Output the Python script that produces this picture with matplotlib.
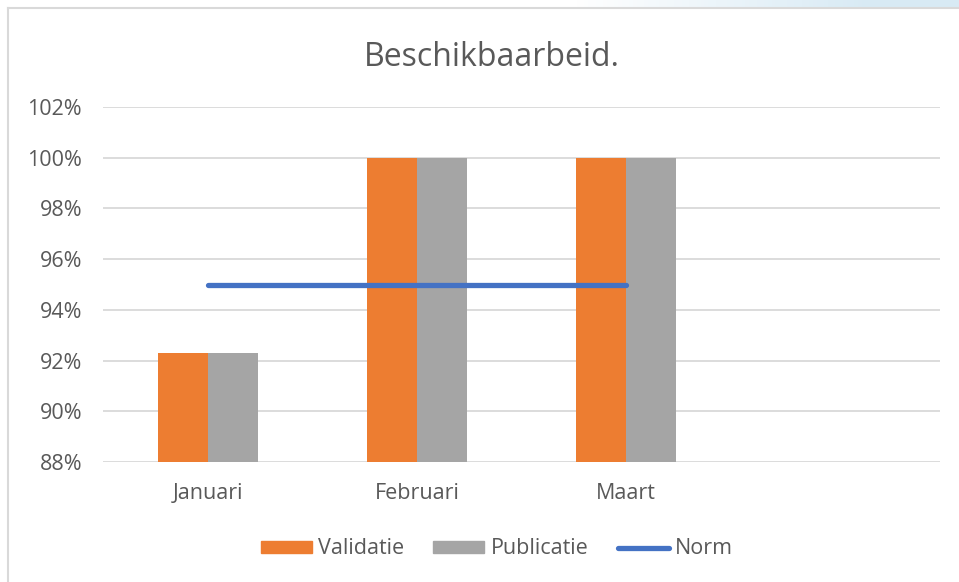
import numpy as np
import matplotlib
matplotlib.use("Agg")
from matplotlib import pyplot as plt
from matplotlib.patches import Rectangle
from matplotlib.lines import Line2D

# data
months = ["Januari", "Februari", "Maart", ""]
validatie = [92.3, 100.0, 100.0]
publicatie = [92.3, 100.0, 100.0]
norm = [95.0, 95.0, 95.0]
y_ticks = [88, 90, 92, 94, 96, 98, 100, 102]

plt.rcParams["font.family"] = ["Open Sans", "DejaVu Sans"]
text_color = "#595959"
grid_color = "#D9D9D9"

fig = plt.figure(figsize=(9.59, 5.82), dpi=100)
ax = fig.add_axes([103 / 959, 1 - 462 / 582, (940 - 103) / 959, (462 - 107) / 582])

x = np.arange(len(validatie))
w = 0.239
ax.bar(x - w / 2, np.array(validatie) - 88, w, bottom=88, color="#ED7D31", label="Validatie", zorder=3)
ax.bar(x + w / 2, np.array(publicatie) - 88, w, bottom=88, color="#A5A5A5", label="Publicatie", zorder=3)
ax.plot(x, norm, color="#4472C4", lw=3.8, solid_capstyle="round", label="Norm", zorder=4)

ax.set_xlim(-0.5, len(months) - 0.5)
ax.set_ylim(88, 102)
ax.set_yticks(y_ticks)
ax.set_yticklabels([f"{t}%" for t in y_ticks])
ax.set_xticks(range(len(months)))
ax.set_xticklabels(months)
ax.tick_params(length=0, colors=text_color, labelsize=15.5)
ax.tick_params(axis="y", pad=15)
ax.tick_params(axis="x", pad=15)
ax.grid(axis="y", color=grid_color, lw=1.3, zorder=0)
for s in ax.spines.values():
    s.set_visible(False)

fig.text(0.513, 1 - 66 / 582, "Beschikbaarbeid.", ha="center", va="baseline",
         fontsize=23, color=text_color)

handles = [Rectangle((0, 0), 1, 1, color="#ED7D31"),
           Rectangle((0, 0), 1, 1, color="#A5A5A5"),
           Line2D([0], [0], color="#4472C4", lw=3.8, solid_capstyle="round")]
leg = fig.legend(handles, ["Validatie", "Publicatie", "Norm"], loc="center",
                 bbox_to_anchor=(0.518, 1 - 549 / 582), ncol=3, frameon=False,
                 fontsize=15.5, handlelength=2.37, handleheight=0.5,
                 handletextpad=0.3, columnspacing=1.35)
for t in leg.get_texts():
    t.set_color(text_color)

# chart border
fig.add_artist(Line2D([8 / 959, 8 / 959], [0, 1 - 8 / 582], transform=fig.transFigure,
                      color=grid_color, lw=1.5))
fig.add_artist(Line2D([8 / 959, 1], [1 - 8 / 582, 1 - 8 / 582], transform=fig.transFigure,
                      color=grid_color, lw=1.5))
# light blue strip at the top
top = fig.add_axes([0, 1 - 7 / 582, 1, 7 / 582])
grad = np.linspace(0, 1, 256)
grad = np.clip((grad - 0.6) / 0.3, 0, 1)
rgb = np.ones((1, 256, 3))
blue = np.array([0.85, 0.92, 0.96])
rgb[0] = 1 - grad[:, None] * (1 - blue)
top.imshow(rgb, aspect="auto")
top.axis("off")

fig.savefig("out.png", dpi=100)
